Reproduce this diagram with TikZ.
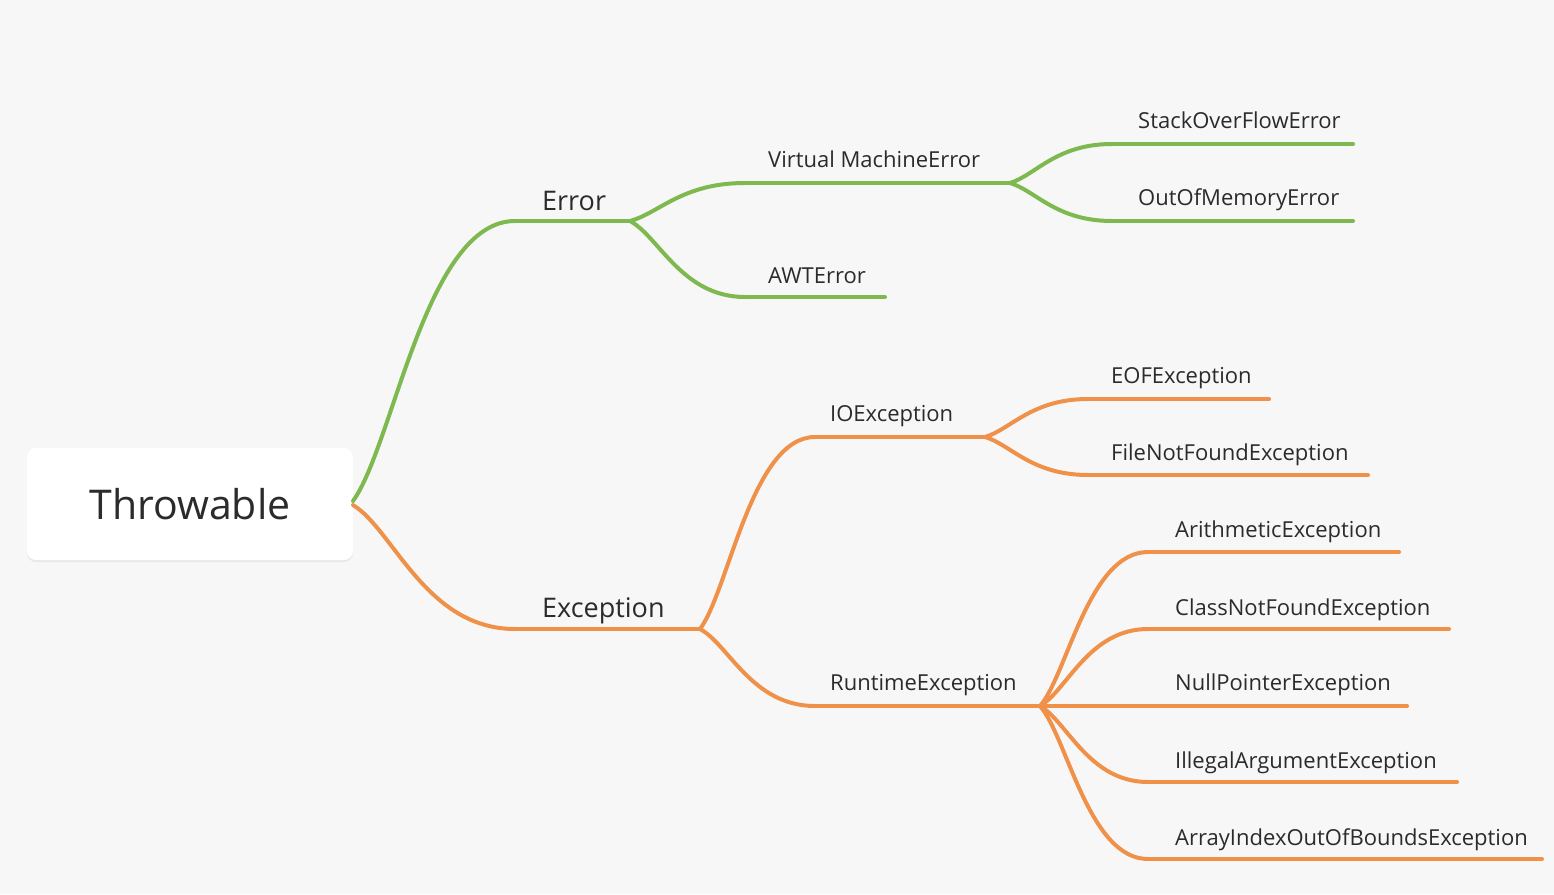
\documentclass[tikz,border=0pt]{standalone}
\usepackage{fontspec}
\setmainfont{Open Sans}
\usetikzlibrary{shadows,calc}
\definecolor{bg}{HTML}{F7F7F7}
\definecolor{grn}{HTML}{7DB94F}
\definecolor{org}{HTML}{F0914A}
\definecolor{txt}{HTML}{2B2B2B}
\tikzset{
  lbl/.style={anchor=base west,inner sep=0pt,text=txt,font=\fontsize{22}{26}\selectfont},
  lblbig/.style={anchor=base west,inner sep=0pt,text=txt,font=\fontsize{27}{32}\selectfont},
  gline/.style={draw=grn,line width=4pt,line cap=round},
  oline/.style={draw=org,line width=4pt,line cap=round},
  rootbox/.style={draw=none,fill=white,rounded corners=9pt,minimum width=326pt,minimum height=112pt,
    text=txt,font=\fontsize{41}{48}\selectfont,
    drop shadow={opacity=0.12,shadow xshift=0pt,shadow yshift=-2pt}},
}
\newcommand{\sbranch}[3]{% style, from, to
  \path[#1] let \p1=(#2), \p2=(#3) in
   (\p1) .. controls ({\x1+0.25*(\x2-\x1)},{\y1+0.2*(\y2-\y1)}) and ({\x1+0.45*(\x2-\x1)},\y2) .. (\p2);}
\begin{document}
\begin{tikzpicture}[x=1pt,y=-1pt]
\useasboundingbox (0,0) rectangle (1554,894);
\fill[bg] (0,0) rectangle (1554,894);
% root
\node[rootbox] (root) at (190,504) {Throwable};
\coordinate (rg) at (353,501);
\coordinate (ro) at (353,505);
% line coordinates: start (S) and end (E)
\coordinate (errS) at (515,221); \coordinate (errE) at (630,221);
\coordinate (vmS) at (745,183); \coordinate (vmE) at (1010,183);
\coordinate (awtS) at (745,297); \coordinate (awtE) at (885,297);
\coordinate (soS) at (1112,144); \coordinate (soE) at (1353,144);
\coordinate (oomS) at (1112,221); \coordinate (oomE) at (1353,221);
\coordinate (excS) at (515,629); \coordinate (excE) at (700,629);
\coordinate (ioS) at (815,437); \coordinate (ioE) at (985,437);
\coordinate (rtS) at (815,706); \coordinate (rtE) at (1040,706);
\coordinate (eofS) at (1088,399); \coordinate (eofE) at (1269,399);
\coordinate (fnfS) at (1088,475); \coordinate (fnfE) at (1368,475);
\coordinate (arS) at (1148,552); \coordinate (arE) at (1399,552);
\coordinate (cnfS) at (1148,629); \coordinate (cnfE) at (1449,629);
\coordinate (npE) at (1407,706);
\coordinate (iaS) at (1148,782); \coordinate (iaE) at (1457,782);
\coordinate (aiS) at (1148,859); \coordinate (aiE) at (1542,859);
% labels
\node[lblbig] (err) at (542,210) {Error};
\node[lblbig] (exc) at (542,617) {Exception};
\node[lbl] (vm) at (768,167) {Virtual MachineError};
\node[lbl] (awt) at (768,283) {AWTError};
\node[lbl] (so) at (1138,128) {StackOverFlowError};
\node[lbl] (oom) at (1138,205) {OutOfMemoryError};
\node[lbl] (io) at (830,421) {IOException};
\node[lbl] (rt) at (830,690) {RuntimeException};
\node[lbl] (eof) at (1111,383) {EOFException};
\node[lbl] (fnf) at (1111,460) {FileNotFoundException};
\node[lbl] (ar) at (1175,537) {ArithmeticException};
\node[lbl] (cnf) at (1175,615) {ClassNotFoundException};
\node[lbl] (np) at (1175,690) {NullPointerException};
\node[lbl] (ia) at (1175,768) {IllegalArgumentException};
\node[lbl] (ai) at (1175,845) {ArrayIndexOutOfBoundsException};
% green branches
\sbranch{gline}{rg}{errS}
\draw[gline] (errS) -- (errE);
\sbranch{gline}{errE}{vmS}
\draw[gline] (vmS) -- (vmE);
\sbranch{gline}{errE}{awtS}
\draw[gline] (awtS) -- (awtE);
\sbranch{gline}{vmE}{soS}
\draw[gline] (soS) -- (soE);
\sbranch{gline}{vmE}{oomS}
\draw[gline] (oomS) -- (oomE);
% orange branches
\sbranch{oline}{ro}{excS}
\draw[oline] (excS) -- (excE);
\sbranch{oline}{excE}{ioS}
\draw[oline] (ioS) -- (ioE);
\sbranch{oline}{excE}{rtS}
\draw[oline] (rtS) -- (rtE);
\sbranch{oline}{ioE}{eofS}
\draw[oline] (eofS) -- (eofE);
\sbranch{oline}{ioE}{fnfS}
\draw[oline] (fnfS) -- (fnfE);
\sbranch{oline}{rtE}{arS}
\draw[oline] (arS) -- (arE);
\sbranch{oline}{rtE}{cnfS}
\draw[oline] (cnfS) -- (cnfE);
\draw[oline] (rtE) -- (npE);
\sbranch{oline}{rtE}{iaS}
\draw[oline] (iaS) -- (iaE);
\sbranch{oline}{rtE}{aiS}
\draw[oline] (aiS) -- (aiE);
\end{tikzpicture}
\end{document}
